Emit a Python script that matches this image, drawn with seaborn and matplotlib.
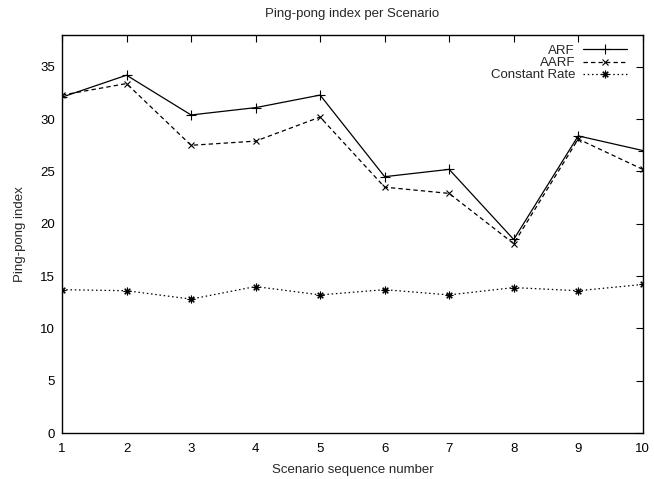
import matplotlib
matplotlib.use("Agg")
import matplotlib.pyplot as plt
import seaborn as sns
import pandas as pd

scenarios = [1, 2, 3, 4, 5, 6, 7, 8, 9, 10]
arf = [32.1, 34.2, 30.4, 31.1, 32.3, 24.5, 25.2, 18.5, 28.4, 27.0]
aarf = [32.3, 33.4, 27.5, 27.9, 30.2, 23.5, 22.9, 18.1, 28.1, 25.2]
constant_rate = [13.7, 13.6, 12.8, 14.0, 13.2, 13.7, 13.2, 13.9, 13.6, 14.2]
series_names = ["ARF", "AARF", "Constant Rate"]
y_ticks = [0, 5, 10, 15, 20, 25, 30, 35]

sns.set_style("white")
plt.rcParams["font.family"] = ["Liberation Sans", "DejaVu Sans"]
plt.rcParams["font.size"] = 9.5

fig = plt.figure(figsize=(6.54, 4.79), dpi=100)
ax = fig.add_axes([0.0948, 0.096, 0.888, 0.830])

styles = {
    "ARF": dict(linestyle="-", marker="+", ms=6.5),
    "AARF": dict(linestyle=(0, (3.5, 2.5)), marker="x", ms=5),
    "Constant Rate": dict(linestyle=(0, (1.2, 2.2)), marker=(8, 2, 0), ms=5.5),
}
values = {"ARF": arf, "AARF": aarf, "Constant Rate": constant_rate}

for name in series_names:
    df = pd.DataFrame({"scenario": scenarios, "index": values[name]})
    st = styles[name]
    sns.lineplot(data=df, x="scenario", y="index", ax=ax, color="black",
                 linewidth=0.9, linestyle=st["linestyle"], marker=st["marker"],
                 markersize=st["ms"], markeredgewidth=0.8,
                 markeredgecolor="black", label=name)

ax.set_xlim(1, 10)
ax.set_ylim(0, 38)
ax.set_xticks(scenarios)
ax.set_yticks(y_ticks)
ax.tick_params(direction="in", length=5, width=0.8, top=True, right=True,
               labelsize=9.5, pad=5, colors="black")
ax.tick_params(axis="x", pad=7)
for sp in ax.spines.values():
    sp.set_color("black")
    sp.set_linewidth(1.0)

ax.set_title("Ping-pong index per Scenario", fontsize=9.5, pad=13)
ax.set_xlabel("Scenario sequence number", fontsize=9.5, labelpad=7)
ax.set_ylabel("Ping-pong index", fontsize=9.5, labelpad=10)

leg = ax.legend(loc="upper right", markerfirst=False, frameon=False,
                handlelength=3.3, handletextpad=0.6, labelspacing=0.0,
                borderaxespad=0.3, fontsize=9.5, bbox_to_anchor=(0.988, 1.0))

fig.savefig("out.png", dpi=100)
